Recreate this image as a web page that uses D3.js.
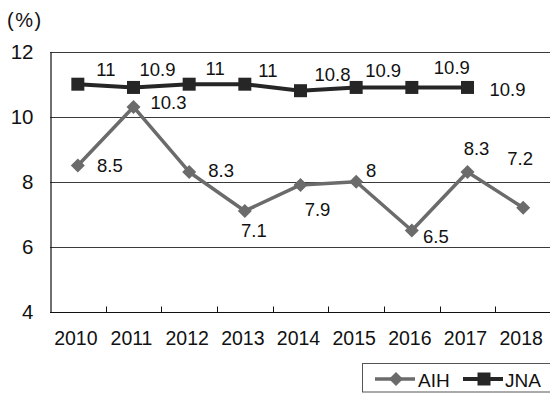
<!DOCTYPE html>
<html>
<head>
<meta charset="utf-8">
<script src="https://cdn.jsdelivr.net/npm/d3@7"></script>
<style>
  html, body { margin: 0; padding: 0; background: #fff; }
  svg { display: block; font-family: "Liberation Sans", Arial, sans-serif; }
</style>
</head>
<body>
<svg id="chart" width="550" height="393"></svg>
<script>
// Years on the horizontal axis
const years = ["2010", "2011", "2012", "2013", "2014", "2015", "2016", "2017", "2018"];
// Series values (%); JNA has no 2018 value
const aihValues = [8.5, 10.3, 8.3, 7.1, 7.9, 8, 6.5, 8.3, 7.2];
const jnaValues = [11, 10.9, 11, 11, 10.8, 10.9, 10.9, 10.9, null];
const yTicks = [4, 6, 8, 10, 12];
const seriesNames = ["AIH", "JNA"];

// Label placement (pixel offsets from each point)
const aihLabelOffsets = [[32, 0], [35, -4], [32, -1], [9, 20], [17, 25], [15, -11], [24, 6], [9, -23], [-3, -49]];
const jnaLabelOffsets = [[28, -15], [24, -18], [26, -16], [23, -14], [32, -16], [27, -17], [40, -20], [40, 2]];

const svg = d3.select("#chart");
const plot = { left: 50, right: 551, top: 51.7, bottom: 311.7 };

const x = d3.scaleBand().domain(years).range([plot.left, plot.right]).padding(0);
const y = d3.scaleLinear().domain([4, 12]).range([plot.bottom, plot.top]);

const colors = { AIH: "#6b6b6b", JNA: "#262626" };

// Horizontal gridlines
svg.append("g")
  .selectAll("line")
  .data(yTicks.filter(t => t > 4))
  .join("line")
  .attr("x1", plot.left).attr("x2", plot.right)
  .attr("y1", d => Math.round(y(d)) + 0.5).attr("y2", d => Math.round(y(d)) + 0.5)
  .attr("stroke", "#3a3a3a").attr("stroke-width", 1);

// Y axis
const yAxis = svg.append("g")
  .attr("transform", `translate(${plot.left + 0.5},0)`)
  .call(d3.axisLeft(y).tickValues(yTicks).tickSize(0).tickPadding(17).tickFormat(d3.format("d")));
yAxis.select(".domain").attr("stroke", "#111").attr("stroke-width", 1.2);
yAxis.selectAll("text").attr("font-size", 20.5).attr("fill", "#111")
  .attr("font-family", "Liberation Sans, Arial, sans-serif");

// X axis with inward tick marks at category boundaries
const xAxisG = svg.append("g").attr("transform", `translate(0,${Math.round(plot.bottom) + 0.5})`);
xAxisG.append("line")
  .attr("x1", plot.left).attr("x2", plot.right)
  .attr("stroke", "#111").attr("stroke-width", 1.2);
xAxisG.selectAll("line.tick")
  .data(years.slice(1))
  .join("line")
  .attr("class", "tick")
  .attr("x1", d => Math.round(x(d)) + 0.5).attr("x2", d => Math.round(x(d)) + 0.5)
  .attr("y1", 0).attr("y2", -6)
  .attr("stroke", "#111").attr("stroke-width", 1);
xAxisG.selectAll("text")
  .data(years)
  .join("text")
  .attr("x", d => x(d) + x.bandwidth() / 2 - 2)
  .attr("y", 32.5)
  .attr("text-anchor", "middle")
  .attr("font-size", 19.5)
  .attr("fill", "#111")
  .text(d => d);

// Unit label
svg.append("text")
  .attr("x", 7).attr("y", 27)
  .attr("font-size", 20).attr("letter-spacing", 1.5).attr("fill", "#111")
  .text("(%)");

const cx = d => x(d) + x.bandwidth() / 2;

function drawSeries(name, values, marker, offsets, width) {
  const pts = years.map((yr, i) => ({ yr, v: values[i], i })).filter(p => p.v != null);
  const g = svg.append("g");
  g.append("path")
    .datum(pts)
    .attr("fill", "none")
    .attr("stroke", colors[name])
    .attr("stroke-width", width)
    .attr("stroke-linejoin", "round")
    .attr("d", d3.line().x(p => cx(p.yr)).y(p => y(p.v)));
  g.selectAll("path.mark")
    .data(pts)
    .join("path")
    .attr("class", "mark")
    .attr("transform", p => `translate(${cx(p.yr)},${y(p.v)})`)
    .attr("d", marker)
    .attr("fill", colors[name]);
  g.selectAll("text")
    .data(pts)
    .join("text")
    .attr("x", p => cx(p.yr) + offsets[p.i][0])
    .attr("y", p => y(p.v) + offsets[p.i][1])
    .attr("text-anchor", "middle")
    .attr("dominant-baseline", "central")
    .attr("font-size", 18.5)
    .attr("fill", "#111")
    .text(p => p.v);
}

const diamond = "M0,-7L7,0L0,7L-7,0Z";
const square = "M-6.5,-6.5H6.5V6.5H-6.5Z";

drawSeries("JNA", jnaValues, square, jnaLabelOffsets, 4);
drawSeries("AIH", aihValues, diamond, aihLabelOffsets, 3.5);

// Legend
const lg = svg.append("g");
lg.append("rect")
  .attr("x", 362.5).attr("y", 363.5).attr("width", 200).attr("height", 28.5)
  .attr("fill", "#fff").attr("stroke", "#555").attr("stroke-width", 1);
const legendItems = [
  { name: seriesNames[0], x0: 375, marker: diamond, w: 3.5, tx: 418 },
  { name: seriesNames[1], x0: 463, marker: square, w: 4, tx: 505 }
];
legendItems.forEach(it => {
  lg.append("line")
    .attr("x1", it.x0).attr("x2", it.x0 + 40)
    .attr("y1", 379).attr("y2", 379)
    .attr("stroke", colors[it.name]).attr("stroke-width", it.w);
  lg.append("path")
    .attr("transform", `translate(${it.x0 + 21},379)`)
    .attr("d", it.marker)
    .attr("fill", colors[it.name]);
  lg.append("text")
    .attr("x", it.tx).attr("y", 380)
    .attr("dominant-baseline", "central")
    .attr("font-size", 19)
    .attr("fill", "#111")
    .text(it.name);
});
</script>
</body>
</html>
